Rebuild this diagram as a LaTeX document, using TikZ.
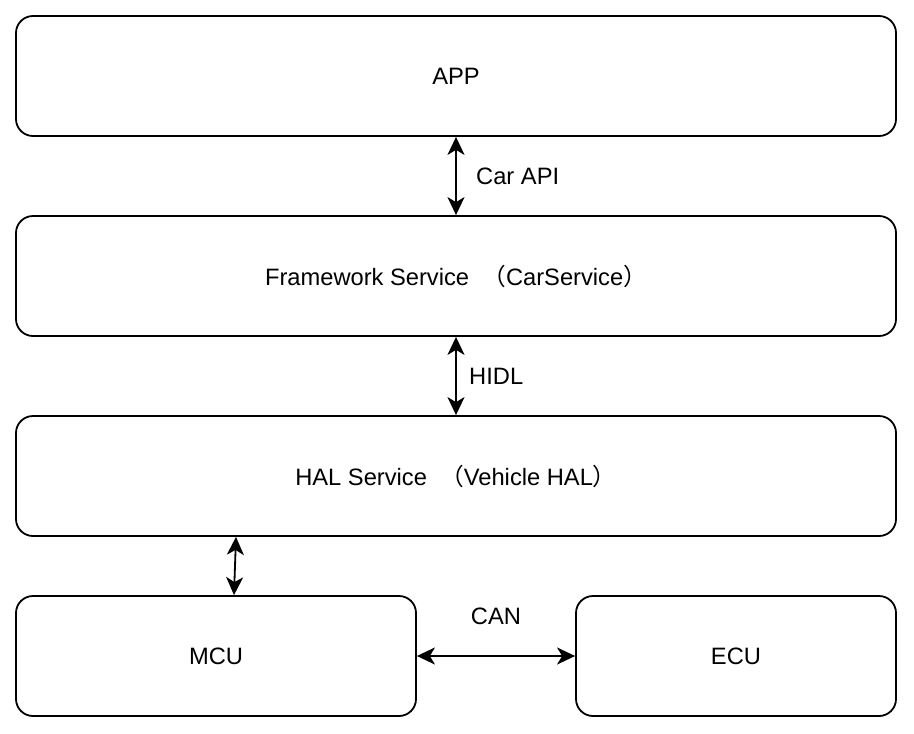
\documentclass[tikz,border=0pt]{standalone}
\usepackage{fontspec}
\setmainfont{Liberation Sans}
\newfontfamily\cjk{Noto Sans CJK SC}
\usetikzlibrary{arrows.meta}
\begin{document}
\begin{tikzpicture}[x=1pt,y=-1pt,
  box/.style={draw=black,line width=1.8pt,rounded corners=17pt,fill=white,
    minimum height=120pt,inner sep=0pt,font=\fontsize{23.7}{28}\selectfont},
  lbl/.style={font=\fontsize{23.7}{28}\selectfont,inner sep=0pt},
  tip/.style={Stealth[length=18pt 0,width=17pt 0,inset=5pt 0]},
  conn/.style={line width=1.8pt,{Stealth[length=18pt 0,width=17pt 0,inset=5pt 0]}-{Stealth[length=18pt 0,width=17pt 0,inset=5pt 0]}}]
\useasboundingbox (0,0) rectangle (914,734);
\node[box,minimum width=880pt] (app) at (456,76) {APP};
\node[box,minimum width=880pt] (fw) at (456,276) {Framework Service \ {\cjk （}CarService{\cjk ）}};
\node[box,minimum width=880pt] (hal) at (456,476) {HAL Service \ {\cjk （}Vehicle HAL{\cjk ）}};
\node[box,minimum width=400pt] (mcu) at (216,656) {MCU};
\node[box,minimum width=320pt] (ecu) at (736,656) {ECU};
\draw[conn] (app.south) -- (fw.north);
\draw[conn] (fw.south) -- (hal.north);
\draw[conn] (hal.south -| 236,0) -- (mcu.north -| 234,0);
\draw[conn] (mcu.east) -- (ecu.west);
\node[lbl,anchor=west] (carapi) at (476,176) {Car API};
\node[lbl,anchor=west] (hidl) at (469,376) {HIDL};
\node[lbl] (can) at (496,616) {CAN};
\end{tikzpicture}
\end{document}
